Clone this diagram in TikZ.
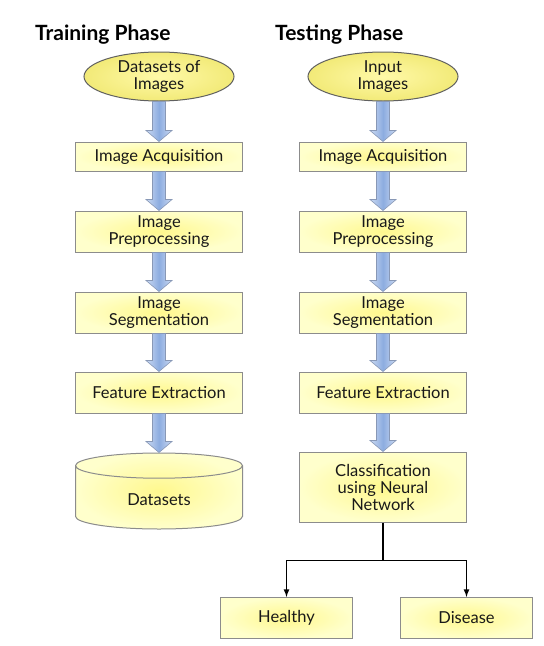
\documentclass[tikz,border=0pt]{standalone}
\usepackage{fontspec}
\setmainfont{Lato}
\usepackage{tikz}
\usetikzlibrary{%
  calc,
  positioning,
  shapes.geometric,
  arrows,
}

\definecolor{boxline}{HTML}{8C8C8C}
\definecolor{boxin}{HTML}{FFF88E}
\definecolor{boxout}{HTML}{FFFFCC}
\definecolor{ovalin}{HTML}{FFF9A8}
\definecolor{ovalout}{HTML}{F2EA78}
\definecolor{arrowmid}{HTML}{8CACE0}
\definecolor{arrowside}{HTML}{CCDAF2}
\definecolor{arrowline}{HTML}{8898B6}

\tikzset{
  stagebox/.style = {
    rectangle, draw = boxline, line width = 1pt,
    inner color = boxin, outer color = boxout,
    minimum width = 167pt, minimum height = 41pt,
    align = center, text = black!90,
    font = \fontsize{16.5}{17}\selectfont,
  },
  inputoval/.style = {
    ellipse, draw = gray!75!black, line width = 1pt,
    inner color = ovalin, outer color = ovalout,
    minimum width = 150pt, minimum height = 49pt, inner sep = 0pt,
    align = center, text = black!90,
    font = \fontsize{16.5}{17}\selectfont,
  },
  phasetitle/.style = {
    anchor = west, inner sep = 0pt,
    font = \bfseries\fontsize{21}{22}\selectfont,
  },
  blockarrow/.style = {
    draw = arrowline, line width = 0.6pt,
    left color = arrowside, right color = arrowside, middle color = arrowmid,
  },
}

% fat blue arrow from the bottom of one node to the top of the next
\newcommand{\flowarrow}[2]{%
  \path[blockarrow]
    let \p1 = (#1.south), \p2 = (#2.north) in
    (\x1-6.5pt,\y1) -- (\x1+6.5pt,\y1) -- (\x1+6.5pt,\y2+11pt)
    -- (\x1+13pt,\y2+11pt) -- (\x1,\y2) -- (\x1-13pt,\y2+11pt)
    -- (\x1-6.5pt,\y2+11pt) -- cycle;
}

\begin{document}
\begin{tikzpicture}[x = 1pt, y = -1pt]
        \useasboundingbox[fill = white] (0,0) rectangle (544,646);

        \node[phasetitle] (trainT) at (35,35) {Training Phase};
        \node[phasetitle] (testT) at (275,35) {Testing Phase};

        % training column
        \node[inputoval] (imgL) at (159,76.5) {Datasets of\\Images};
        \node[stagebox, minimum height = 29pt, below = 40pt of imgL] (acqL) {Image Acquisition};
        \node[stagebox, below = 39pt of acqL] (preL) {Image\\Preprocessing};
        \node[stagebox, below = 39pt of preL] (segL) {Image\\Segmentation};
        \node[stagebox, below = 38pt of segL] (featL) {Feature Extraction};
        \node[
          cylinder, shape border rotate = 90, aspect = 0.36,
          draw = boxline, line width = 1pt,
          inner color = boxin, outer color = boxout,
          minimum width = 167pt, minimum height = 76pt,
          text = black!90, font = \fontsize{16.5}{17}\selectfont,
          below = 39pt of featL,
        ] (dbL) {Datasets};

        % testing column
        \node[inputoval] (imgR) at (383,76.5) {Input\\Images};
        \node[stagebox, minimum height = 29pt, below = 40pt of imgR] (acqR) {Image Acquisition};
        \node[stagebox, below = 39pt of acqR] (preR) {Image\\Preprocessing};
        \node[stagebox, below = 39pt of preR] (segR) {Image\\Segmentation};
        \node[stagebox, below = 38pt of segR] (featR) {Feature Extraction};
        \node[stagebox, minimum height = 70pt, below = 38pt of featR] (clsR)
          {Classification\\using Neural\\Network};

        \node[stagebox, minimum width = 132pt] (healthy) at (286.5,618) {Healthy};
        \node[stagebox, minimum width = 132pt] (disease) at (466.5,618) {Disease};

        \flowarrow{imgL}{acqL}
        \flowarrow{acqL}{preL}
        \flowarrow{preL}{segL}
        \flowarrow{segL}{featL}
        \flowarrow{featL}{dbL}

        \flowarrow{imgR}{acqR}
        \flowarrow{acqR}{preR}
        \flowarrow{preR}{segR}
        \flowarrow{segR}{featR}
        \flowarrow{featR}{clsR}

        \coordinate (split) at ($(clsR.south)+(0,38)$);
        \draw[line width = 1.6pt] (clsR.south) -- (split);
        \draw[line width = 1.6pt, -latex] (split) -| (healthy.north);
        \draw[line width = 1.6pt, -latex] (split) -| (disease.north);
      \end{tikzpicture}
\end{document}
